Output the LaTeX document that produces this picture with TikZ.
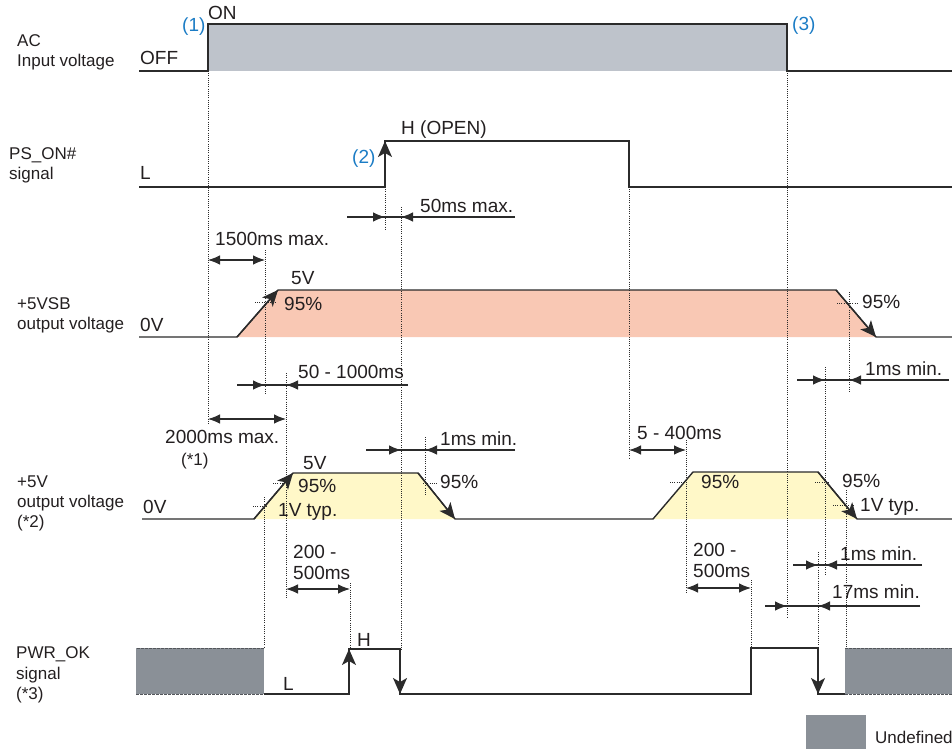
\documentclass[tikz,border=0pt]{standalone}
\usepackage{fontspec}
\setmainfont{Liberation Sans}
\usetikzlibrary{arrows.meta}
\definecolor{txt}{HTML}{231F20}
\definecolor{wire}{HTML}{2B2B2B}
\definecolor{numblue}{HTML}{1B7CC5}
\definecolor{acgray}{HTML}{BEC3CB}
\definecolor{sbpink}{HTML}{F9C8B4}
\definecolor{vyellow}{HTML}{FFF8C8}
\definecolor{undef}{HTML}{8A9097}
\begin{document}
\begin{tikzpicture}[x=1pt,y=-1pt,
	every node/.style={text=txt,inner sep=0pt,anchor=base west},
	lbl/.style={font=\fontsize{17}{20}\selectfont},
	ann/.style={font=\fontsize{19}{22}\selectfont},
	num/.style={font=\fontsize{19}{22}\selectfont,text=numblue},
	wave/.style={draw=wire,line width=1.4pt},
	sigtip/.style={wave,-{Stealth[length=16pt,width=14pt,inset=4pt]}},
	guide/.style={draw=wire,line width=0.7pt,dash pattern=on 1pt off 1.2pt},
	dimline/.style={draw=wire,line width=1.1pt},
	dimtip/.style={dimline,-{Latex[length=12pt,width=9.5pt]}},
	dimboth/.style={dimline,{Latex[length=12pt,width=9.5pt]}-{Latex[length=12pt,width=9.5pt]}}]
	\useasboundingbox (0,0) rectangle (952,749);
	\fill[acgray] (208,24) rectangle (787,71);
	\fill[sbpink] (237,337) -- (278,290) -- (836,290) -- (876,337) -- cycle;
	\fill[vyellow] (254,519) -- (293,473) -- (418,473) -- (455,519) -- cycle;
	\fill[vyellow] (653,519) -- (693,472) -- (818,472) -- (857,519) -- cycle;
	\fill[undef] (136,648) rectangle (264,694);
	\fill[undef] (845,648) rectangle (952,694);
	\fill[undef] (806,715) rectangle (866,749);
	\draw[undef!60!black,line width=0.8pt,dash pattern=on 3pt off 1pt] (264,648) -- (136,648) (136,694) -- (264,694) (845,648) -- (952,648) (845,694) -- (952,694);
	\foreach \x/\a/\b in {208/71/425, 385/187/229, 401/207/650, 265/250/395, 264/497/648, 286/373/598, 350/583/650, 425/437/495, 629/187/459, 686/440/593, 751/580/648, 787/71/617, 818/552/648, 825/367/575, 846/490/648, 849/292/393}
		\draw[guide] (\x,\a) -- (\x,\b);
	\foreach \y/\a/\b in {302/255/275, 303/837/858, 483/273/288, 506/253/268, 483/423/438, 482/670/685, 482/815/830, 505/833/855}
		\draw[guide] (\a,\y) -- (\b,\y);
	\draw[wave] (139,71) -- (208,71) -- (208,24) -- (787,24) -- (787,71) -- (952,71);
	\draw[wave] (139,187) -- (385,187) -- (385,141) -- (629,141) -- (629,187) -- (952,187);
	\draw[sigtip] (385,187) -- (385,141);
	\draw[wave] (139,337) -- (237,337) -- (278,290) -- (836,290) -- (876,337) -- (952,337);
	\draw[sigtip] (237,337) -- (278,290);
	\draw[sigtip] (836,290) -- (876,337);
	\draw[wave] (142,519) -- (254,519) -- (293,473) -- (418,473) -- (455,519) -- (653,519) -- (693,472) -- (818,472) -- (857,519) -- (952,519);
	\draw[sigtip] (254,519) -- (293,473);
	\draw[sigtip] (418,473) -- (455,519);
	\draw[sigtip] (818,472) -- (857,519);
	\draw[wave] (264,694) -- (349,694) -- (349,649) -- (400,649) -- (400,694) -- (751,694) -- (751,648) -- (818,648) -- (818,694) -- (845,694);
	\draw[sigtip] (349,694) -- (349,649);
	\draw[sigtip] (400,649) -- (400,694);
	\draw[sigtip] (818,648) -- (818,694);
	\foreach \y/\a/\b/\c/\d in {217/347/385/401/515, 385/237/265/286/408, 450/366/401/425/515, 380/797/825/849/949, 565/793/818/825/922, 606/765/787/818/920}{
		\draw[dimline] (\a,\y) -- (\d,\y);
		\draw[dimtip] (\a,\y) -- (\b,\y);
		\draw[dimtip] (\d,\y) -- (\c,\y);
	}
	\foreach \y/\a/\b in {260/208/265, 419/208/286, 450/629/686, 589/286/350, 588/686/751}
		\draw[dimboth] (\a,\y) -- (\b,\y);
	\node[lbl] (acA) at (17,47) {AC};
	\node[lbl] (acB) at (17,67) {Input voltage};
	\node[lbl] (psA) at (9,159) {PS\_ON\#};
	\node[lbl] (psB) at (9,179) {signal};
	\node[lbl] (sbA) at (17,309) {+5VSB};
	\node[lbl] (sbB) at (17,329) {output voltage};
	\node[lbl] (vA) at (17,487) {+5V};
	\node[lbl] (vB) at (17,507) {output voltage};
	\node[lbl] (vC) at (17,527) {(*2)};
	\node[lbl] (okA) at (16,658) {PWR\_OK};
	\node[lbl] (okB) at (16,679) {signal};
	\node[lbl] (okC) at (16,699) {(*3)};
	\node[num] (nOne) at (182,32) {(1)};
	\node[num] (nTwo) at (352,163) {(2)};
	\node[num] (nThree) at (792,31) {(3)};
	\node[ann] (acOff) at (140,65) {OFF};
	\node[ann] (acOn) at (208,20) {ON};
	\node[ann] (psL) at (140,179) {L};
	\node[ann] (psH) at (401,135) {H (OPEN)};
	\node[ann] (sbZero) at (140,331) {0V};
	\node[ann] (sbFive) at (291,284) {5V};
	\node[ann] (sbRise) at (284,310) {95\%};
	\node[ann] (sbFall) at (862,308) {95\%};
	\node[ann] (vZero) at (143,513) {0V};
	\node[ann] (vFive) at (303,469) {5V};
	\node[ann] (vRiseA) at (298,492) {95\%};
	\node[ann] (vLowA) at (278,516) {1V typ.};
	\node[ann] (vFallA) at (440,488) {95\%};
	\node[ann] (vRiseB) at (701,488) {95\%};
	\node[ann] (vFallB) at (842,487) {95\%};
	\node[ann] (vLowB) at (860,511) {1V typ.};
	\node[ann] (okH) at (357,646) {H};
	\node[ann] (okL) at (283,690) {L};
	\node[ann] (tPsOn) at (420,212) {50ms max.};
	\node[ann] (tSbUp) at (215,245) {1500ms max.};
	\node[ann] (tSbToV) at (298,378) {50 - 1000ms};
	\node[ann] (tAcToV) at (165,443) {2000ms max.};
	\node[lbl] (tNote) at (181,465) {(*1)};
	\node[ann] (tOffA) at (440,445) {1ms min.};
	\node[ann] (tOffB) at (637,439) {5 - 400ms};
	\node[ann] (tSbHold) at (865,375) {1ms min.};
	\node[ann] (tOkA) at (293,558) {200 -};
	\node[ann] (tOkB) at (293,579) {500ms};
	\node[ann] (tOkC) at (693,556) {200 -};
	\node[ann] (tOkD) at (693,577) {500ms};
	\node[ann] (tOkHold) at (840,560) {1ms min.};
	\node[ann] (tAcHold) at (832,598) {17ms min.};
	\node[lbl] (legend) at (875,743) {Undefined};
\end{tikzpicture}
\end{document}
